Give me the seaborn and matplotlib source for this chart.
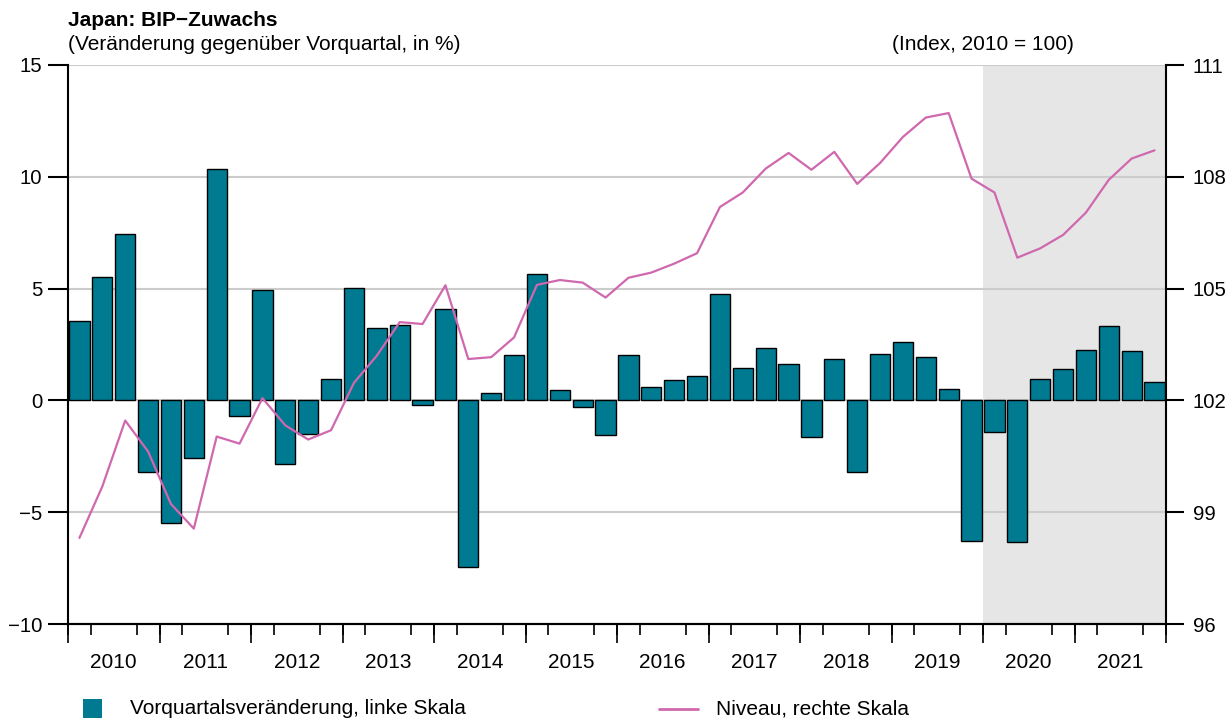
import numpy as np
import pandas as pd
import matplotlib
matplotlib.use("Agg")
import matplotlib.pyplot as plt
import seaborn as sns
from matplotlib.patches import Rectangle
from matplotlib.lines import Line2D

# ---------------- data ----------------
years = ["2010", "2011", "2012", "2013", "2014", "2015",
         "2016", "2017", "2018", "2019", "2020", "2021"]
quarters = [f"{y}Q{q}" for y in years for q in (1, 2, 3, 4)]

# quarter-on-quarter change (%), left scale
growth = [3.53, 5.50, 7.44, -3.22,
          -5.48, -2.57, 10.36, -0.69,
          4.93, -2.84, -1.52, 0.97,
          5.02, 3.22, 3.37, -0.21,
          4.10, -7.44, 0.33, 2.01,
          5.65, 0.47, -0.29, -1.54,
          2.05, 0.59, 0.89, 1.09,
          4.78, 1.46, 2.34, 1.64,
          -1.65, 1.83, -3.19, 2.07,
          2.62, 1.94, 0.49, -6.29,
          -1.41, -6.32, 0.95, 1.40,
          2.25, 3.32, 2.19, 0.82]

# GDP level (index, 2010 = 100), right scale
level = [98.31, 99.69, 101.46, 100.63,
         99.22, 98.56, 101.03, 100.84,
         102.06, 101.33, 100.95, 101.20,
         102.47, 103.20, 104.10, 104.05,
         105.09, 103.11, 103.16, 103.69,
         105.10, 105.23, 105.16, 104.76,
         105.29, 105.43, 105.67, 105.95,
         107.19, 107.58, 108.22, 108.64,
         108.19, 108.67, 107.81, 108.37,
         109.07, 109.59, 109.71, 107.95,
         107.58, 105.83, 106.08, 106.44,
         107.04, 107.92, 108.49, 108.71]

left_ticks = [-10, -5, 0, 5, 10, 15]
right_ticks = [96, 99, 102, 105, 108, 111]

df = pd.DataFrame({"quarter": quarters, "growth": growth, "level": level})
df["pos"] = np.arange(len(df))

# ---------------- style ----------------
TEAL = "#007a91"
PINK = "#cf68ae"
sns.set_theme(style="white")
plt.rcParams["font.family"] = ["Liberation Sans", "DejaVu Sans"]
plt.rcParams.update({
    "text.color": "black", "axes.labelcolor": "black",
    "xtick.color": "black", "ytick.color": "black",
    "axes.edgecolor": "black",
})
FS = 15
TFS = 14.7

W, H = 1230, 719
fig = plt.figure(figsize=(W / 100, H / 100), dpi=100)
L, R, T, B = 68, 1166, 65, 624
ax = fig.add_axes([L / W, 1 - B / H, (R - L) / W, (B - T) / H])

# shaded period
n = len(quarters)
ax.axvspan(n - 8 - 0.5, n - 0.5, color="#e6e6e6", lw=0, zorder=0)

sns.barplot(data=df, x="quarter", y="growth", color=TEAL, saturation=1,
            edgecolor="black", linewidth=1.0, width=0.88, ax=ax, zorder=2)

ax.set_ylim(-10, 15)
ax.set_yticks(left_ticks)
ax.set_yticklabels([str(t).replace("-", "\u2212") for t in left_ticks])
ax.yaxis.grid(True, color="#cccccc", lw=1.5)
ax.xaxis.grid(False)
ax.set_axisbelow(True)
ax.set_xlabel("")
ax.set_ylabel("")

ax2 = ax.twinx()
sns.lineplot(data=df, x="pos", y="level", color=PINK, lw=1.6, ax=ax2, zorder=5)
ax2.set_ylim(96, 111)
ax2.set_yticks(right_ticks)
ax2.set_yticklabels([str(t) for t in right_ticks])
ax2.set_xlabel("")
ax2.set_ylabel("")
ax2.grid(False)

ax.set_xlim(-0.5, n - 0.5)

# x ticks: year labels centred, quarter ticks short, year ticks long
ax.set_xticks([i * 4 + 1.5 for i in range(len(years))])
ax.set_xticklabels(years)
ax.set_xticks(np.arange(-0.5, n, 1), minor=True)
ax.tick_params(axis="x", which="major", length=0, pad=21, labelsize=FS)
ax.tick_params(axis="x", which="minor", length=8, width=1.2, direction="out", bottom=True)
sec = ax.secondary_xaxis("bottom")
sec.set_xticks(np.arange(-0.5, n, 4))
sec.tick_params(axis="x", length=14, width=1.2, direction="out", labelbottom=False)
sec.spines["bottom"].set_linewidth(1.5)

ax.tick_params(axis="y", length=14.4, width=1.5, pad=4, labelsize=TFS, left=True)
ax2.tick_params(axis="y", length=13.2, width=1.5, pad=6, labelsize=TFS, right=True)

for a in (ax, ax2):
    a.spines["top"].set_visible(False)
    for s in ("left", "right", "bottom"):
        a.spines[s].set_linewidth(1.5)
        a.spines[s].set_color("black")
ax.spines["right"].set_visible(False)
ax2.spines["left"].set_visible(False)
ax2.spines["bottom"].set_visible(False)

# titles
fig.text(L / W, 1 - 21 / H, "Japan: BIP\u2212Zuwachs", fontsize=FS, weight="bold",
         ha="left", va="center")
fig.text(L / W, 1 - 45 / H, "(Veränderung gegenüber Vorquartal, in %)", fontsize=FS,
         ha="left", va="center")
fig.text(1074 / W, 1 - 45 / H, "(Index, 2010 = 100)", fontsize=FS,
         ha="right", va="center")

# legend
fig.add_artist(Rectangle((83 / W, 1 - 718 / H), 19 / W, 19 / H,
                         transform=fig.transFigure, facecolor=TEAL, edgecolor="none"))
fig.text(130 / W, 1 - 709 / H, "Vorquartalsveränderung, linke Skala", fontsize=FS,
         ha="left", va="center")
fig.add_artist(Line2D([659 / W, 698 / W], [1 - 708.5 / H] * 2,
                      transform=fig.transFigure, color=PINK, lw=2))
fig.text(716 / W, 1 - 709 / H, "Niveau, rechte Skala", fontsize=FS,
         ha="left", va="center")

fig.savefig("out.png", dpi=100)
